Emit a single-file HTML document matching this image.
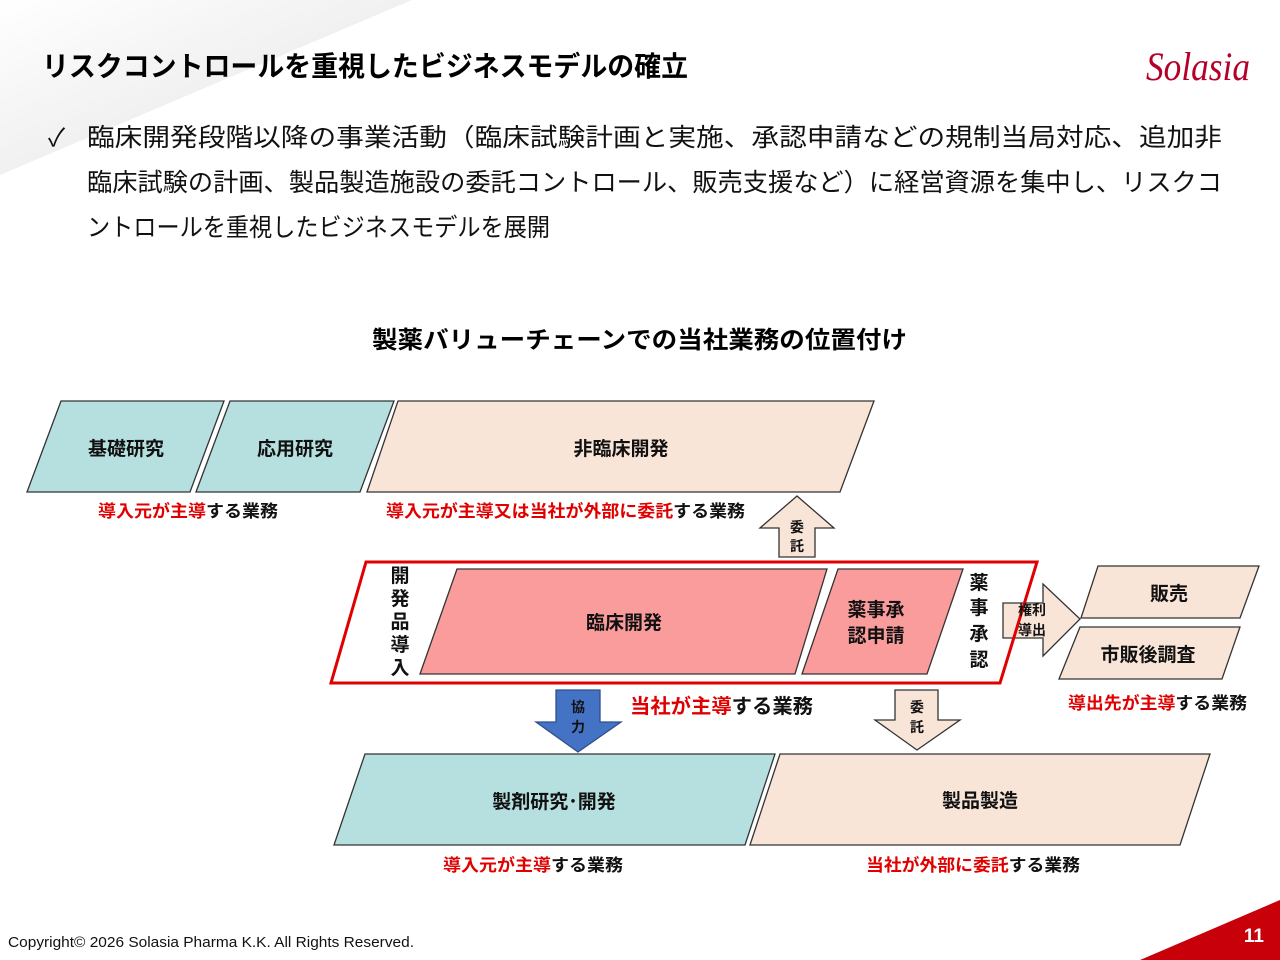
<!DOCTYPE html>
<html><head><meta charset="utf-8"><style>
html,body{margin:0;padding:0;background:#fff}
svg{display:block}
text{font-family:"Liberation Sans","Noto Sans CJK JP",sans-serif}
</style></head><body>
<svg width="1280" height="960" viewBox="0 0 1280 960" xmlns="http://www.w3.org/2000/svg">
<defs>
<linearGradient id="bg" x1="0" y1="0" x2="1" y2="1">
<stop offset="0" stop-color="#ffffff"/><stop offset="1" stop-color="#e2e2e2"/>
</linearGradient>
</defs>
<polygon points="0,0 412,0 0,175" fill="url(#bg)"/>
<text x="42" y="76" font-size="28" font-weight="bold" fill="#000" textLength="646" lengthAdjust="spacingAndGlyphs">リスクコントロールを重視したビジネスモデルの確立</text>
<text x="1146" y="80" font-size="40" fill="#b5002a" style="font-family:'Liberation Serif',serif;font-style:italic" textLength="104" lengthAdjust="spacingAndGlyphs">Solasia</text>
<g font-size="25" fill="#111">
<text x="48" y="146">✓</text>
<text x="87" y="146" textLength="1135" lengthAdjust="spacingAndGlyphs">臨床開発段階以降の事業活動（臨床試験計画と実施、承認申請などの規制当局対応、追加非</text>
<text x="87" y="191" textLength="1135" lengthAdjust="spacingAndGlyphs">臨床試験の計画、製品製造施設の委託コントロール、販売支援など）に経営資源を集中し、リスクコ</text>
<text x="87" y="236" textLength="463" lengthAdjust="spacingAndGlyphs">ントロールを重視したビジネスモデルを展開</text>
</g>
<text x="372" y="348" font-size="24" font-weight="bold" textLength="535" lengthAdjust="spacingAndGlyphs">製薬バリューチェーンでの当社業務の位置付け</text>
<g stroke="#333" stroke-width="1.3">
<polygon points="61,401 224,401 190,492 27,492" fill="#b6dfe0"/>
<polygon points="230,401 394,401 360,492 196,492" fill="#b6dfe0"/>
<polygon points="398,401 874,401 840,492 367,492" fill="#f9e5d8"/>
<polygon points="1098,566 1259,566 1240,618 1081,618" fill="#f9e5d8"/>
<polygon points="1080,627 1240,627 1222,679 1059,679" fill="#f9e5d8"/>
<polygon points="365,754 775,754 745,845 334,845" fill="#b6dfe0"/>
<polygon points="780,754 1210,754 1180,845 750,845" fill="#f9e5d8"/>
<polygon points="457,569 827,569 795,674 420,674" fill="#fb9c9c"/>
<polygon points="838,569 963,569 927,674 802,674" fill="#fb9c9c"/>
<polygon points="779,557 815,557 815,528 834,528 797,496 760,528 779,528" fill="#f9e5d8"/>
<polygon points="895,690 938,690 938,720 960,720 917,750 875,720 895,720" fill="#f9e5d8"/>
<polygon points="1003,603 1043,603 1043,584 1080,619 1043,656 1043,638 1003,638" fill="#f9e5d8"/>
<polygon points="556,690 600,690 600,722 621,722 578,752 536,722 556,722" fill="#4472c4" stroke="#2f4f8a"/>
</g>
<polygon points="366,562 1037,562 1000,683 331,683" fill="none" stroke="#e00000" stroke-width="3"/>
<g font-size="19" font-weight="bold" fill="#111" text-anchor="middle">
<text x="126" y="455">基礎研究</text>
<text x="295" y="455">応用研究</text>
<text x="621" y="455">非臨床開発</text>
<text x="624" y="629">臨床開発</text>
<text x="876" y="616">薬事承</text>
<text x="876" y="642">認申請</text>
<text x="1169" y="600">販売</text>
<text x="1148" y="661">市販後調査</text>
<text x="554" y="808">製剤研究･開発</text>
<text x="980" y="807">製品製造</text>
<text x="400" y="582">開</text><text x="400" y="605">発</text><text x="400" y="628">品</text><text x="400" y="651">導</text><text x="400" y="674">入</text>
<text x="979" y="589">薬</text><text x="979" y="614">事</text><text x="979" y="640">承</text><text x="979" y="666">認</text>
</g>
<g font-size="14" font-weight="bold" fill="#111" text-anchor="middle">
<text x="797" y="532">委</text><text x="797" y="551">託</text>
<text x="917" y="712">委</text><text x="917" y="732">託</text>
<text x="1032" y="615">権利</text><text x="1032" y="635">導出</text>
<text x="578" y="712">協</text><text x="578" y="732">力</text>
</g>
<g font-size="17" font-weight="bold">
<text x="98" y="517" textLength="180" lengthAdjust="spacingAndGlyphs"><tspan fill="#e00000">導入元が主導</tspan><tspan fill="#111">する業務</tspan></text>
<text x="386" y="517" textLength="359" lengthAdjust="spacingAndGlyphs"><tspan fill="#e00000">導入元が主導又は当社が外部に委託</tspan><tspan fill="#111">する業務</tspan></text>
<text x="1068" y="709" textLength="179" lengthAdjust="spacingAndGlyphs"><tspan fill="#e00000">導出先が主導</tspan><tspan fill="#111">する業務</tspan></text>
<text x="443" y="871" textLength="180" lengthAdjust="spacingAndGlyphs"><tspan fill="#e00000">導入元が主導</tspan><tspan fill="#111">する業務</tspan></text>
<text x="866" y="871" textLength="214" lengthAdjust="spacingAndGlyphs"><tspan fill="#e00000">当社が外部に委託</tspan><tspan fill="#111">する業務</tspan></text>
</g>
<text x="630" y="713" font-size="20" font-weight="bold" textLength="183" lengthAdjust="spacingAndGlyphs"><tspan fill="#e00000">当社が主導</tspan><tspan fill="#111">する業務</tspan></text>
<text x="8" y="947" font-size="15" fill="#111" textLength="406" lengthAdjust="spacingAndGlyphs">Copyright© 2026 Solasia Pharma K.K. All Rights Reserved.</text>
<polygon points="1140,960 1280,900 1280,960" fill="#c8000a"/>
<text x="1264" y="942" font-size="19" font-weight="bold" fill="#fff" text-anchor="end">11</text>
</svg>
</body></html>
